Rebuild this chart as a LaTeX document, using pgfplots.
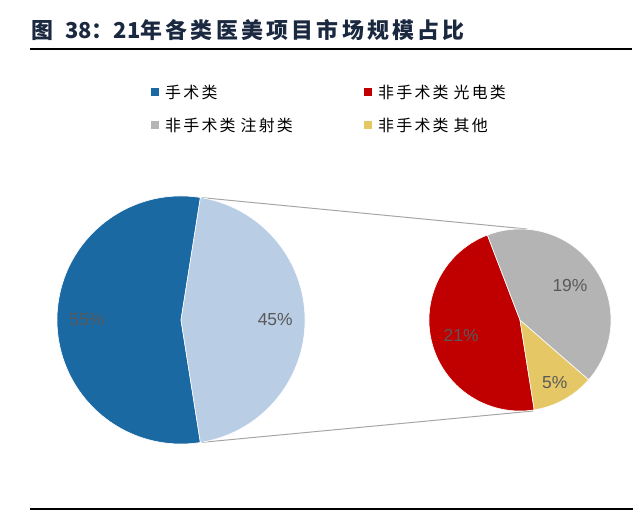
\documentclass[border=0pt]{standalone}
\usepackage{fontspec}
\setmainfont{Liberation Sans}
\newfontfamily\cjk{Noto Sans CJK SC}
\usepackage{pgfplots}
\usepackage{pgfplotstable}
\pgfplotsset{compat=1.18}

\definecolor{cBlue}{HTML}{1B69A3}
\definecolor{cLight}{HTML}{B9CDE5}
\definecolor{cRed}{HTML}{C00000}
\definecolor{cGray}{HTML}{B4B4B4}
\definecolor{cYellow}{HTML}{E5C865}
\definecolor{cLabel}{HTML}{595959}
\definecolor{cTitle}{HTML}{1A2840}
\definecolor{cConn}{HTML}{A6A6A6}

% share of each project type, percent
\pgfplotstableread{
value color lr
55 cBlue  0.76
45 cLight 0.76
}\leftpie
\pgfplotstableread{
value color   lr
21    cRed    0.67
5     cYellow 0.79
19    cGray   0.67
}\rightpie

% #1 table, #2 cx, #3 cy, #4 radius (bp), #5 start angle, #6 total
\newcommand\drawpie[6]{%
  \pgfplotstablegetrowsof{#1}%
  \pgfmathtruncatemacro\pien{\pgfplotsretval-1}%
  \xdef\pieangle{#5}%
  \foreach \i in {0,...,\pien}{%
    \pgfplotstablegetelem{\i}{value}\of{#1}\let\pv\pgfplotsretval
    \pgfplotstablegetelem{\i}{color}\of{#1}\let\pc\pgfplotsretval
    \pgfplotstablegetelem{\i}{lr}\of{#1}\let\pl\pgfplotsretval
    \pgfmathsetmacro\sweep{\pv/#6*360}%
    \pgfmathsetmacro\pmid{\pieangle+\sweep/2}%
    \pgfmathsetmacro\plr{\pl*#4}%
    \fill[fill=\pc, draw=white, line width=0.6bp] (axis cs:#2,#3) -- ++(\pieangle:#4bp)
      arc[start angle=\pieangle, delta angle=\sweep, radius=#4bp] -- cycle;
    \path (axis cs:#2,#3) ++(\pmid:\plr bp)
      node[text=cLabel, font=\fontsize{17.5}{20}\selectfont] {\pv\%};
    \pgfmathsetmacro\newa{\pieangle+\sweep}%
    \xdef\pieangle{\newa}%
  }%
}

% legend entry: x, y of the square, colour, text
\newcommand\legitem[4]{%
  \node[fill=#3, inner sep=0pt, minimum size=8bp] at (axis cs:#1,#2) {};
  \node[anchor=west, inner sep=0pt,
        font=\cjk\fontsize{16}{19}\selectfont\addfontfeature{LetterSpace=14}]
        at (axis cs:#1+10,#2) {#4};%
}

\begin{document}
\begin{tikzpicture}
\path[use as bounding box] (0,0) rectangle (640bp,515bp);
\begin{axis}[
  at={(0,0)}, anchor=south west,
  width=640bp, height=515bp, scale only axis,
  xmin=0, xmax=640, ymin=0, ymax=515,
  hide axis, clip=false,
]
% connectors between the two pies
\addplot[cConn, line width=1bp, mark=none] coordinates {(200.4,317.5) (527,286)};
\addplot[cConn, line width=1bp, mark=none] coordinates {(200.4,72.5) (533,104)};

\pgfplotsextra{%
  \drawpie{\leftpie}{181}{195}{124}{81}{100}%
  \drawpie{\rightpie}{520}{195}{91}{111}{45}%
  % title and rules
  \node[anchor=west, inner sep=0pt, text=cTitle,
        font=\cjk\bfseries\fontsize{22}{25}\selectfont]
        at (axis cs:31,485) {图\hspace{12bp}38：21{\addfontfeature{LetterSpace=15}年各类医美项目市场规模占比}};
  \draw[black, line width=2bp] (axis cs:30,466) -- (axis cs:632,466);
  \draw[black, line width=2.6bp] (axis cs:30,6) -- (axis cs:633,6);
  % legend
  \legitem{155}{423}{cBlue}{手术类}%
  \legitem{368}{423}{cRed}{非手术类\hspace{5bp}光电类}%
  \legitem{155}{390}{cGray}{非手术类\hspace{5bp}注射类}%
  \legitem{368}{390}{cYellow}{非手术类\hspace{5bp}其他}%
}
\end{axis}
\end{tikzpicture}
\end{document}
